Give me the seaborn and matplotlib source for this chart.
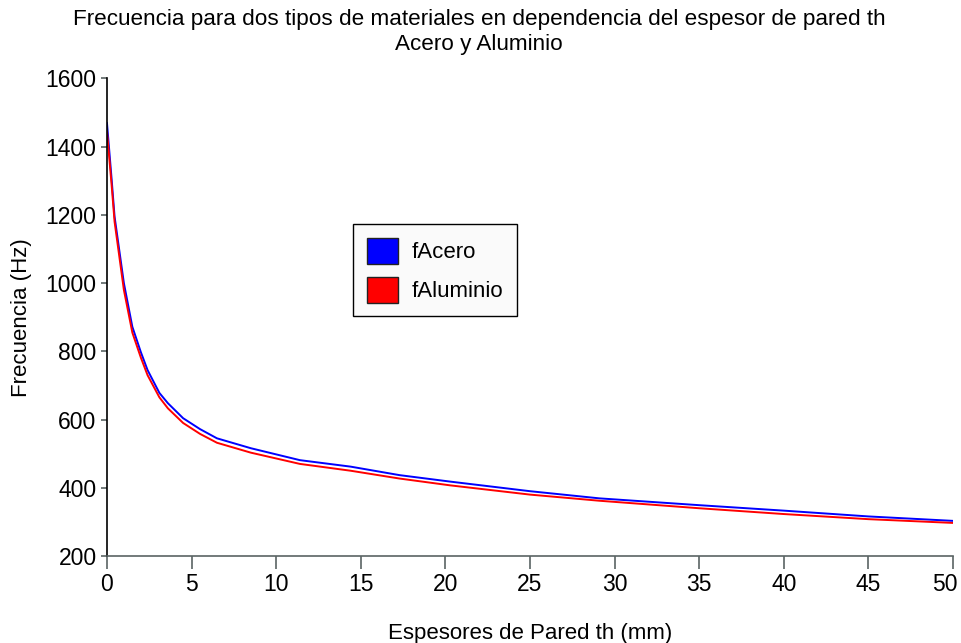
import matplotlib
matplotlib.use("Agg")
import matplotlib.pyplot as plt
import matplotlib.transforms as mtransforms
from matplotlib.patches import Patch
import seaborn as sns
import pandas as pd

thickness = [0, 0.28, 0.45, 1.0, 1.5, 2.0, 2.4, 3.1, 3.6, 4.5, 5.5, 6.5, 8.5, 11.4, 14.4, 17.3, 20.3, 25, 29.1, 35, 40, 45, 50]
f_acero = [1470, 1302, 1195, 1000, 872, 798, 745, 678, 648, 604, 572, 545, 516, 481, 462, 437, 418, 390, 369, 349, 333, 316, 303]
f_aluminio = [1445, 1285, 1180, 980, 855, 782, 730, 665, 633, 590, 558, 532, 503, 470, 450, 427, 407, 380, 362, 340, 323, 308, 297]
series_names = ["fAcero", "fAluminio"]
colors = ["#0000ff", "#ff0000"]
x_ticks = list(range(0, 51, 5))
y_ticks = list(range(200, 1601, 200))

df = pd.DataFrame({
    "th": thickness * 2,
    "f": f_acero + f_aluminio,
    "serie": [series_names[0]] * len(thickness) + [series_names[1]] * len(thickness),
})

sns.set_theme(style="white")
plt.rcParams["font.family"] = ["Liberation Sans", "DejaVu Sans"]
plt.rcParams["text.color"] = "black"
plt.rcParams["axes.labelcolor"] = "black"

fig = plt.figure(figsize=(9.61, 6.43), dpi=100)
ax = fig.add_axes([0.1113, 0.1353, 0.8804, 0.7427])
sns.lineplot(data=df, x="th", y="f", hue="serie", palette=colors, linewidth=1.4, ax=ax, legend=False)

ax.set_xlim(0, 50)
ax.set_ylim(200, 1600)
ax.set_xticks(x_ticks)
ax.set_yticks(y_ticks)
for s in ["top", "right"]:
    ax.spines[s].set_visible(False)
ax.spines["left"].set_color("black")
ax.spines["left"].set_linewidth(1.2)
ax.spines["bottom"].set_color("#5a6464")
ax.spines["bottom"].set_linewidth(1.2)
ax.tick_params(axis="x", direction="out", length=9, width=1.2, color="#5a6464",
               labelsize=16.5, labelcolor="black", pad=3, bottom=True)
ax.tick_params(axis="y", direction="out", length=4.5, width=1.2, color="#5a6464",
               labelsize=16.5, labelcolor="black", pad=3, left=True)

# shift the last x tick label left so it stays inside the figure
last = ax.get_xticklabels()[-1]
last.set_transform(last.get_transform() + mtransforms.ScaledTranslation(-8 / 100, 0, fig.dpi_scale_trans))

ax.set_xlabel("Espesores de Pared th (mm)", fontsize=16, labelpad=20, color="black")
ax.set_ylabel("Frecuencia (Hz)", fontsize=16, labelpad=10, color="black")
fig.text(0.4985, 1 - 9 / 643,
         "Frecuencia para dos tipos de materiales en dependencia del espesor de pared th\nAcero y Aluminio",
         fontsize=16.2, ha="center", va="top", linespacing=1.25, color="black")

handles = [Patch(facecolor=c, edgecolor="#222222", label=n) for c, n in zip(colors, series_names)]
leg = ax.legend(handles=handles, loc="upper left", bbox_to_anchor=(0.2908, 0.695), borderaxespad=0,
                fontsize=16, handlelength=1.4, handleheight=1.4, frameon=True, fancybox=False,
                borderpad=0.62, labelspacing=0.6, handletextpad=0.6, labelcolor="black")
leg.get_frame().set_edgecolor("black")
leg.get_frame().set_linewidth(1.0)
leg.get_frame().set_facecolor("#fafafa")
leg.get_frame().set_alpha(1)

fig.savefig("out.png", dpi=100)
